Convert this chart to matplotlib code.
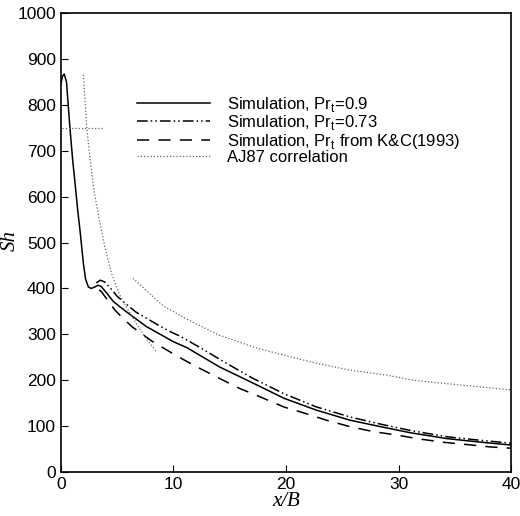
import matplotlib
matplotlib.use('Agg')
import matplotlib.pyplot as plt

# Simulation, Pr_t = 0.9 (solid)
x_pr09 = [0, 0.15, 0.3, 0.5, 0.8, 1.05, 1.3, 1.5, 1.7, 2.0, 2.2, 2.45, 2.7, 3.0,
          3.3, 3.6, 4.0, 4.65, 5.25, 6.1, 7.6, 10, 11.2, 14.1, 17.4, 19.8, 22.7,
          25.7, 28.4, 31, 34.3, 37, 40]
y_pr09 = [845, 862, 867, 850, 752, 680, 620, 570, 527, 455, 420, 403, 400, 403,
          407, 404, 392, 372, 360, 344, 317, 284, 271, 229, 190, 161, 135,
          113, 99, 86, 73, 66, 59]

# Simulation, Pr_t = 0.73 (dash-dot-dot)
x_pr073 = [3.15, 3.5, 3.9, 4.5, 5.0, 5.7, 6.7, 7.2, 8.8, 9.7, 10.6, 12.6, 14.5,
           17.0, 19.8, 22.7, 25.7, 28.5, 31, 34.3, 37, 40]
y_pr073 = [412, 418, 414, 398, 383, 368, 348, 341, 318, 306, 296, 268, 240,
           205, 171, 142, 120, 104, 91, 77, 70, 63]

# Simulation, Pr_t from K&C(1993) (dashed)
x_kc = [3.4, 3.6, 4.05, 4.8, 5.4, 6.3, 8.1, 10.3, 12.1, 14.1, 15.9, 17.7, 19.8,
        21.7, 23.6, 25.7, 27.8, 29.8, 31.9, 34, 36.1, 38.1, 40]
y_kc = [397, 393, 378, 353, 338, 317, 285, 253, 229, 204, 182, 164, 142,
        128, 113, 99, 88, 81, 72, 65, 60, 55, 52]

# AJ87 correlation (dotted), three pieces
x_aj_near = [2.0, 2.3, 2.6, 2.9, 3.3, 3.9, 4.5, 5.2, 6.0, 6.9, 7.6, 8.5]
y_aj_near = [865, 752, 680, 620, 564, 491, 433, 387, 352, 316, 290, 262]
x_aj_flat = [0.1, 3.85]
y_aj_flat = [750, 750]
x_aj_far = [6.4, 8.2, 9.1, 11.2, 14.1, 17.4, 19.8, 22.7, 25.7, 29, 31.3, 35, 40]
y_aj_far = [422, 382, 362, 333, 298, 270, 255, 237, 222, 211, 200, 191, 179]

plt.rcParams['font.family'] = ['Liberation Sans', 'DejaVu Sans']

fig = plt.figure(figsize=(5.2, 5.16), dpi=100)
ax = fig.add_axes([0.117, 0.085, 0.866, 0.89])

lw = 1.1
ax.plot(x_pr09, y_pr09, color='black', lw=lw, label='Simulation, Pr$_\\mathregular{t}$=0.9')
ax.plot(x_pr073, y_pr073, color='black', lw=lw, dashes=(7, 2, 1, 2, 1, 2),
        label='Simulation, Pr$_\\mathregular{t}$=0.73')
ax.plot(x_kc, y_kc, color='black', lw=lw, dashes=(8, 6),
        label='Simulation, Pr$_\\mathregular{t}$ from K&C(1993)')
dot = dict(color='0.4', lw=0.9, dashes=(1, 1.6))
ax.plot(x_aj_near, y_aj_near, label='AJ87 correlation', **dot)
ax.plot(x_aj_flat, y_aj_flat, **dot)
ax.plot(x_aj_far, y_aj_far, **dot)

ax.set_xlim(0, 40)
ax.set_ylim(0, 1000)
ax.set_xticks([0, 10, 20, 30, 40])
ax.set_yticks(range(0, 1001, 100))
ax.tick_params(direction='in', length=5, labelsize=12.5, top=False, right=False)
for s in ax.spines.values():
    s.set_linewidth(1.2)

ax.set_xlabel('x/B', family='Liberation Serif', style='italic', fontsize=15, labelpad=0)
ax.set_ylabel('Sh', family='Liberation Serif', style='italic', fontsize=15)
ax.yaxis.set_label_coords(-0.092, 0.505)

ax.legend(loc='upper left', bbox_to_anchor=(0.15, 0.84), frameon=False,
          fontsize=12, handlelength=4.4, handletextpad=1.0, labelspacing=-0.03,
          borderpad=0)

fig.savefig('out.png', dpi=100)
